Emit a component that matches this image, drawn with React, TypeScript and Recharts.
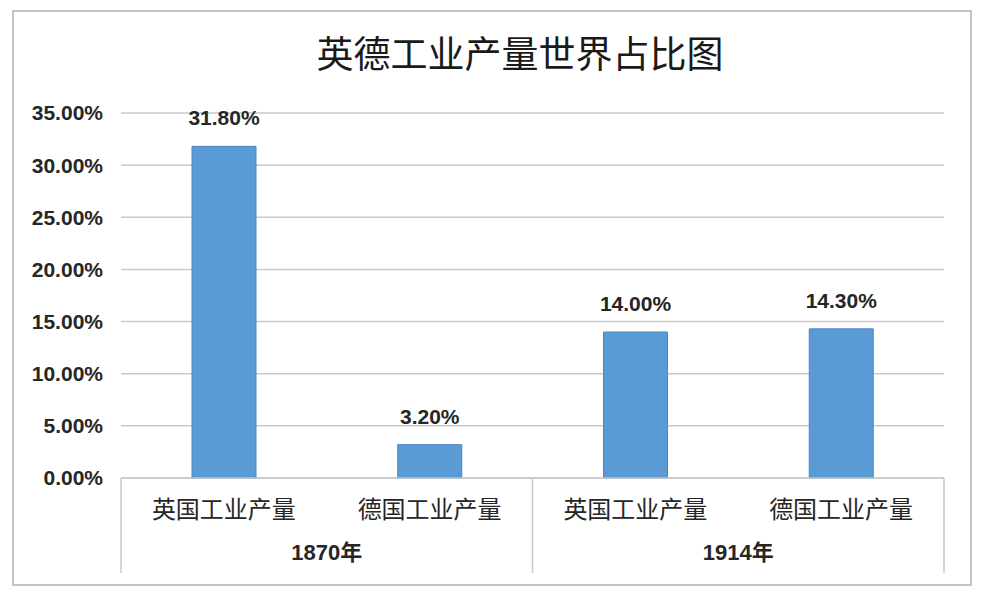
import { BarChart, Bar, XAxis, YAxis, CartesianGrid, LabelList } from 'recharts'

// category labels (lower level of the x axis)
const categories = ['英国工业产量', '德国工业产量', '英国工业产量', '德国工业产量']
// group labels (upper level of the x axis), one per category
const groups = ['1870年', '1870年', '1914年', '1914年']
// share of world industrial output, in %
const shares = [31.8, 3.2, 14.0, 14.3]
const yTicks = [0, 5, 10, 15, 20, 25, 30, 35]

const data = categories.map((name, i) => ({ name, group: groups[i], value: shares[i] }))

const W = 982
const H = 595
const MARGIN = { top: 113, right: 38, bottom: 0, left: 0 }
const Y_AXIS_WIDTH = 121
const X_AXIS_HEIGHT = 117
const BAND = (W - MARGIN.right - Y_AXIS_WIDTH) / categories.length

const GRID = '#c9c9c9'
const TEXT = '#262626'

const pct = (v: number) => `${v.toFixed(2)}%`

// two-level category axis: item label, group label and the separator lines
function TwoLevelTick(props: any) {
  const { x, y, payload, index } = props
  const item = data[index]
  const first = index === 0 || data[index - 1].group !== item.group
  const last = index === data.length - 1
  return (
    <g>
      <text
        x={x}
        y={y + 29}
        textAnchor="middle"
        dominantBaseline="central"
        fontSize={24}
        fill={TEXT}
        fontFamily="'Noto Sans CJK SC', serif"
      >
        {payload.value}
      </text>
      {first && (
        <>
          <line x1={x - BAND / 2} x2={x - BAND / 2} y1={y} y2={y + 95} stroke={GRID} strokeWidth={1.5} />
          <text
            x={x + BAND / 2}
            y={y + 74}
            textAnchor="middle"
            dominantBaseline="central"
            fontSize={22}
            fontWeight="bold"
            fill={TEXT}
            fontFamily="'Liberation Sans', 'Noto Sans CJK SC', sans-serif"
          >
            {item.group}
          </text>
        </>
      )}
      {last && (
        <line x1={x + BAND / 2} x2={x + BAND / 2} y1={y} y2={y + 95} stroke={GRID} strokeWidth={1.5} />
      )}
    </g>
  )
}

export default function App() {
  return (
    <div style={{ position: 'fixed', left: 0, top: 0, width: W, height: H, background: '#fff' }}>
      <div
        style={{
          position: 'absolute',
          left: 12,
          top: 10,
          width: 960,
          height: 576,
          border: '2px solid #c4c4c4',
          boxSizing: 'border-box',
        }}
      />
      <div
        style={{
          position: 'absolute',
          left: 0,
          width: W,
          top: 29,
          textAlign: 'center',
          fontSize: 37,
          lineHeight: '46px',
          color: '#1a1a1a',
          fontFamily: "'Noto Sans CJK SC', serif",
          paddingLeft: 58,
          boxSizing: 'border-box',
        }}
      >
        英德工业产量世界占比图
      </div>
      <div style={{ position: 'absolute', left: 0, top: 0 }}>
        <BarChart width={W} height={H} data={data} margin={MARGIN}>
          <CartesianGrid vertical={false} stroke={GRID} strokeWidth={1.5} />
          <XAxis
            dataKey="name"
            height={X_AXIS_HEIGHT}
            axisLine={{ stroke: GRID, strokeWidth: 1.5 }}
            tickLine={false}
            tickSize={0}
            tickMargin={0}
            interval={0}
            tick={<TwoLevelTick />}
          />
          <YAxis
            width={Y_AXIS_WIDTH}
            domain={[0, 35]}
            ticks={yTicks}
            tickFormatter={pct}
            axisLine={false}
            tickLine={false}
            tickSize={0}
            tickMargin={18}
            tick={{ fontSize: 21, fontWeight: 'bold', fill: TEXT, fontFamily: "'Liberation Sans', sans-serif" }}
          />
          <Bar dataKey="value" fill="#5b9bd5" stroke="#4a86c2" strokeWidth={1} barSize={64} isAnimationActive={false}>
            <LabelList
              dataKey="value"
              position="top"
              offset={21}
              formatter={(v: any) => pct(Number(v))}
              style={{ fontSize: 21, fontWeight: 'bold', fill: TEXT, fontFamily: "'Liberation Sans', sans-serif" }}
            />
          </Bar>
        </BarChart>
      </div>
    </div>
  )
}
